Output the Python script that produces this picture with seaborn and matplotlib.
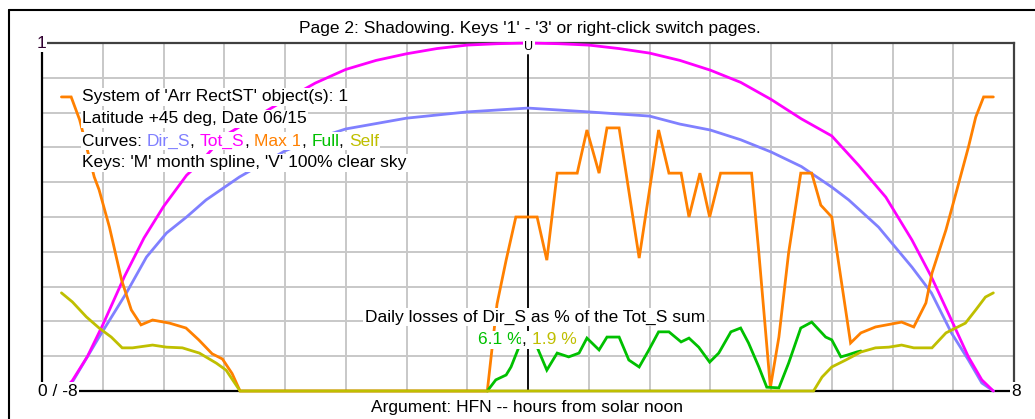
import numpy as np
import pandas as pd
import matplotlib
matplotlib.use("Agg")
import matplotlib.pyplot as plt
import seaborn as sns
from matplotlib.lines import Line2D

# ---------------- data ----------------
tot_hours = [-7.66, -7.5, -7.25, -7.0, -6.64, -6.32, -6.0, -5.62, -5.44, -5.0, -4.5, -4.0, -3.5, -3.0,
             -2.5, -2.0, -1.5, -1.0, -0.5, 0.0, 0.5, 1.0, 1.5, 2.0, 2.5, 3.0, 3.5, 4.0, 4.5, 5.0, 5.44,
             5.89, 6.32, 6.64, 6.97, 7.25, 7.47, 7.66]
tot_vals = [0.0, 0.03, 0.10, 0.19, 0.33, 0.44, 0.53, 0.62, 0.649, 0.733, 0.785, 0.836, 0.885, 0.924,
            0.950, 0.969, 0.984, 0.994, 0.998, 1.0, 0.998, 0.994, 0.984, 0.971, 0.950, 0.922, 0.887,
            0.838, 0.782, 0.733, 0.649, 0.557, 0.434, 0.328, 0.204, 0.098, 0.032, 0.0]

dir_hours = [-7.66, -7.5, -7.06, -6.61, -6.28, -5.95, -5.62, -5.3, -4.75, -4.0, -3.5, -3.0, -2.0, -1.0,
             0.0, 1.0, 2.0, 2.5, 3.0, 3.5, 4.0, 4.5, 5.0, 5.28, 5.77, 6.32, 6.64, 6.97, 7.25, 7.47, 7.66]
dir_vals = [0.0, 0.026, 0.155, 0.282, 0.385, 0.454, 0.50, 0.549, 0.615, 0.690, 0.725, 0.753, 0.784,
            0.802, 0.813, 0.802, 0.790, 0.767, 0.750, 0.722, 0.687, 0.645, 0.586, 0.549, 0.471, 0.356,
            0.282, 0.167, 0.089, 0.023, 0.0]

max_hours = [-7.68, -7.52, -7.38, -7.14, -7.06, -6.89, -6.69, -6.53, -6.37, -6.18, -5.9, -5.63, -5.42,
             -5.2, -5.03, -4.87, -4.74, -0.67, -0.51, -0.36, -0.2, 0.15, 0.31, 0.48, 0.81, 0.97, 1.17,
             1.30, 1.50, 1.83, 2.15, 2.32, 2.52, 2.65, 2.83, 2.99, 3.17, 3.68, 3.80, 3.99, 4.13, 4.29,
             4.49, 4.67, 4.82, 5.0, 5.31, 5.48, 5.72, 6.15, 6.35, 6.55, 6.65, 6.88, 7.06, 7.25, 7.37,
             7.5, 7.66]
max_vals = [0.845, 0.845, 0.779, 0.615, 0.578, 0.471, 0.319, 0.233, 0.19, 0.204, 0.195, 0.181, 0.147,
            0.107, 0.092, 0.05, 0.0, 0.0, 0.25, 0.376, 0.50, 0.50, 0.376, 0.626, 0.626, 0.75, 0.626,
            0.756, 0.756, 0.382, 0.75, 0.626, 0.626, 0.50, 0.626, 0.50, 0.626, 0.626, 0.397, 0.01,
            0.155, 0.397, 0.626, 0.626, 0.534, 0.50, 0.138, 0.167, 0.184, 0.198, 0.184, 0.253, 0.339,
            0.463, 0.578, 0.701, 0.787, 0.845, 0.845]

full_hours = [-0.67, -0.53, -0.36, -0.28, -0.15, 0.0, 0.15, 0.31, 0.48, 0.67, 0.84, 0.97, 1.17, 1.30,
              1.50, 1.66, 1.83, 1.99, 2.15, 2.32, 2.52, 2.65, 2.81, 2.99, 3.14, 3.34, 3.50, 3.63, 3.80,
              3.93, 4.13, 4.29, 4.49, 4.67, 4.90, 5.0, 5.15, 5.25, 5.41, 5.48]
full_vals = [0.0, 0.032, 0.046, 0.069, 0.126, 0.135, 0.126, 0.06, 0.109, 0.098, 0.109, 0.152, 0.118,
             0.155, 0.155, 0.089, 0.069, 0.118, 0.17, 0.17, 0.141, 0.152, 0.126, 0.083, 0.109, 0.17,
             0.181, 0.138, 0.069, 0.011, 0.009, 0.08, 0.181, 0.198, 0.155, 0.147, 0.098, 0.103, 0.112,
             0.115]

self_hours = [-7.68, -7.5, -7.27, -7.06, -6.86, -6.68, -6.51, -6.18, -5.95, -5.69, -5.41, -5.13, -4.97,
              -4.74, 4.70, 4.84, 5.0, 5.23, 5.48, 5.72, 5.94, 6.15, 6.35, 6.65, 6.88, 7.2, 7.37, 7.53,
              7.66]
self_vals = [0.282, 0.256, 0.213, 0.181, 0.155, 0.124, 0.124, 0.132, 0.126, 0.124, 0.109, 0.08, 0.06,
             0.0, 0.0, 0.04, 0.069, 0.089, 0.112, 0.124, 0.126, 0.132, 0.124, 0.124, 0.167, 0.195,
             0.233, 0.27, 0.282]

series_names = ["Dir_S", "Tot_S", "Max 1", "Full", "Self"]
series_colors = ["#8080FF", "#FF00FF", "#FF8000", "#00C000", "#BFBF00"]

title_text = "Page 2: Shadowing. Keys '1' - '3' or right-click switch pages."
xlabel_text = "Argument: HFN -- hours from solar noon"
info_lines = ["System of 'Arr RectST' object(s): 1", "Latitude +45 deg, Date 06/15"]
keys_line = "Keys: 'M' month spline, 'V' 100% clear sky"
loss_title = "Daily losses of Dir_S as % of the Tot_S sum"
loss_full = "6.1 %"
loss_self = "1.9 %"

# ---------------- figure ----------------
sns.set_theme(style="white")
plt.rcParams["font.family"] = ["Liberation Sans", "DejaVu Sans"]
FS = 12.5

W, H = 1035, 419
fig = plt.figure(figsize=(W / 100, H / 100), dpi=100)
fig.patch.set_facecolor("white")

def fx(px):
    return px / W

def fy(py):
    return 1 - py / H

L, R, T, B = 42, 1014, 43, 391
ax = fig.add_axes([fx(L), fy(B), (R - L) / W, (B - T) / H])
ax.set_facecolor("white")

frames = []
for name, hrs, vals in [("Dir_S", dir_hours, dir_vals), ("Tot_S", tot_hours, tot_vals),
                        ("Max 1", max_hours, max_vals), ("Full", full_hours, full_vals),
                        ("Self", self_hours, self_vals)]:
    frames.append(pd.DataFrame({"hour": hrs, "value": vals, "curve": name}))
df = pd.concat(frames, ignore_index=True)

sns.lineplot(data=df, x="hour", y="value", hue="curve", hue_order=series_names,
             palette=dict(zip(series_names, series_colors)), estimator=None, sort=False,
             linewidth=2.0, legend=False, ax=ax, zorder=5)
for ln in ax.get_lines():
    ln.set_clip_on(False)
    ln.set_solid_joinstyle("miter")

ax.set_xlim(-8, 8)
ax.set_ylim(0, 1)
ax.set_xticks(np.arange(-8, 9, 1))
ax.set_yticks(np.arange(0, 1.01, 0.1))
ax.grid(True, color="#C8C8C8", linewidth=1.4)
ax.tick_params(left=False, bottom=False, labelleft=False, labelbottom=False)
ax.set_xlabel("")
ax.set_ylabel("")
for side, sp in ax.spines.items():
    sp.set_visible(True)
    sp.set_linewidth(1.6)
    sp.set_color("#404040" if side in ("top", "right") else "black")
    sp.set_zorder(4)

# noon line
ax.axvline(0, ymin=0, ymax=0.965, color="black", linewidth=1.3, zorder=4.5)

# outer window frame
fig.add_artist(Line2D([fx(9), 1], [fy(10), fy(10)], color="black", lw=1.5, transform=fig.transFigure))
fig.add_artist(Line2D([fx(9), fx(9)], [fy(10), 0], color="black", lw=1.5, transform=fig.transFigure))

wbox = dict(facecolor="white", edgecolor="none", pad=1.0)

fig.text(fx(530), fy(28), title_text, ha="center", va="center", fontsize=FS, color="black")
fig.text(fx(527), fy(407), xlabel_text, ha="center", va="center", fontsize=FS, color="black")

# corner labels
fig.text(fx(41), fy(43), "1", ha="center", va="center", fontsize=FS, color="#300030", bbox=wbox, zorder=10)
fig.text(fx(58), fy(391), "0 / -8", ha="center", va="center", fontsize=FS, color="black", bbox=wbox, zorder=10)
fig.text(fx(1016), fy(391), "8", ha="center", va="center", fontsize=FS, color="black", bbox=wbox, zorder=10)
fig.text(fx(529), fy(47), "U", ha="center", va="center", fontsize=9, color="black", bbox=wbox, zorder=10)

fig.canvas.draw()
renderer = fig.canvas.get_renderer()

def parts_line(x_px, y_px, parts, fs=FS):
    x = x_px
    for s, c in parts:
        t = fig.text(fx(x), fy(y_px), s, ha="left", va="center", fontsize=fs, color=c,
                     bbox=wbox, zorder=10)
        bb = t.get_window_extent(renderer)
        x += bb.width
    return x

parts_line(82, 97, [(info_lines[0], "black")])
parts_line(82, 119, [(info_lines[1], "black")])
parts_line(82, 141, [("Curves: ", "black"), ("Dir_S", series_colors[0]), (", ", "black"),
                     ("Tot_S", series_colors[1]), (", ", "black"), ("Max 1", series_colors[2]),
                     (", ", "black"), ("Full", series_colors[3]), (", ", "black"),
                     ("Self", series_colors[4])])
parts_line(82, 163, [(keys_line, "black")])

fig.text(fx(535), fy(317), loss_title, ha="center", va="center", fontsize=FS, color="black",
         bbox=wbox, zorder=10)
# centered colored percentages
tmp = fig.text(0, 0, loss_full + ", " + loss_self, fontsize=FS)
wtot = tmp.get_window_extent(renderer).width
tmp.remove()
parts_line(527 - wtot / 2, 340, [(loss_full, series_colors[3]), (", ", "black"), (loss_self, series_colors[4])])

fig.savefig("out.png", dpi=100, facecolor="white")
